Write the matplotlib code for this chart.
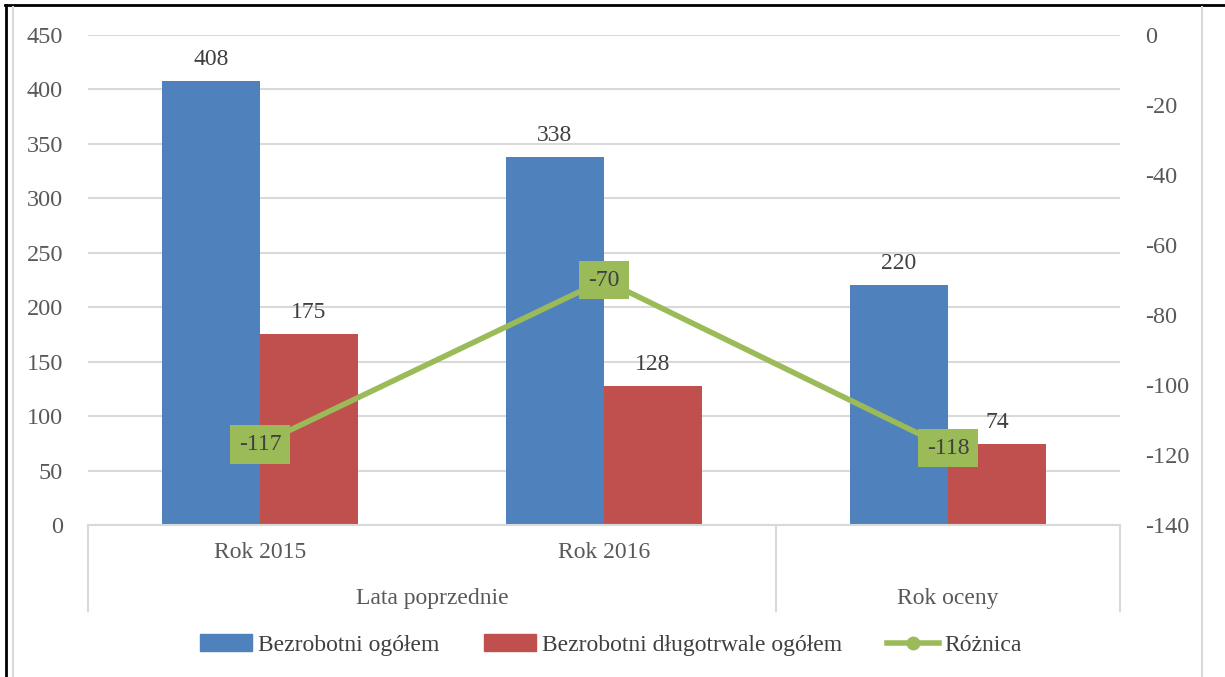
import matplotlib.pyplot as plt
from matplotlib.lines import Line2D
from matplotlib.patches import Patch
import numpy as np

plt.rcParams['font.family'] = ['Liberation Serif', 'DejaVu Serif']
plt.rcParams['axes.unicode_minus'] = False

# dane
kategorie = ['Rok 2015', 'Rok 2016', '']
grupy = ['Lata poprzednie', 'Rok oceny']
ogolem = [408, 338, 220]
dlugotrwale = [175, 128, 74]
roznica = [-117, -70, -118]

niebieski = '#4f81bd'
czerwony = '#c0504d'
zielony = '#9bbb59'
tekst = '#404040'
siatka = '#d9d9d9'

W, H = 1225, 677
fig = plt.figure(figsize=(W / 100, H / 100), dpi=100)
ax = fig.add_axes([88 / W, 1 - 525 / H, (1120 - 88) / W, 490 / H])

x = np.arange(len(kategorie))
w = 0.285
b1 = ax.bar(x - w / 2, ogolem, w, color=niebieski, zorder=2)
b2 = ax.bar(x + w / 2, dlugotrwale, w, color=czerwony, zorder=2)
for bars in (b1, b2):
    for r in bars:
        ax.annotate(str(int(r.get_height())), (r.get_x() + r.get_width() / 2, r.get_height()),
                    xytext=(0, 8), textcoords='offset points', ha='center', va='bottom',
                    fontsize=17, color=tekst)

ax.set_xlim(-0.5, 2.5)
ax.set_ylim(0, 450)
ax.set_yticks(range(0, 451, 50))
ax.yaxis.grid(True, color=siatka, lw=1.5, zorder=0)
ax.set_xticks([])
for s in ax.spines.values():
    s.set_visible(False)
ax.tick_params(axis='y', length=0, labelsize=17.5, labelcolor='#595959', pad=18)

# oś kategorii (dwa poziomy)
tr = ax.get_xaxis_transform()
for i, k in enumerate(kategorie):
    ax.text(x[i], -0.057, k, transform=tr, ha='center', va='center', fontsize=17, color='#595959')
ax.text(0.5, -0.149, grupy[0], transform=tr, ha='center', va='center', fontsize=17, color='#595959')
ax.text(2.0, -0.149, grupy[1], transform=tr, ha='center', va='center', fontsize=17, color='#595959')
for xv in (-0.5, 1.5, 2.5):
    ax.plot([xv, xv], [0, -0.176], transform=tr, color=siatka, lw=1.5, clip_on=False)
ax.plot([-0.5, 2.5], [0, 0], transform=tr, color=siatka, lw=1.5, clip_on=False, zorder=3)

ax2 = ax.twinx()
ax2.plot(x, roznica, color=zielony, lw=4, marker='o', markersize=8, zorder=3)
ax2.set_ylim(-140, 0)
ax2.set_yticks(range(-140, 1, 20))
for s in ax2.spines.values():
    s.set_visible(False)
ax2.tick_params(axis='y', length=0, labelsize=17.5, labelcolor='#595959', pad=18)
for xi, v in zip(x, roznica):
    ax2.text(xi, v, str(v), ha='center', va='center', fontsize=17, color=tekst, zorder=4,
             bbox=dict(boxstyle='square,pad=0.38', facecolor=zielony, edgecolor='none'))

uchwyty = [Patch(color=niebieski), Patch(color=czerwony),
           Line2D([], [], color=zielony, lw=4, marker='o', markersize=9)]
fig.legend(uchwyty, ['Bezrobotni ogółem', 'Bezrobotni długotrwale ogółem', 'Różnica'],
           loc='center', bbox_to_anchor=(611 / W, 1 - 645 / H), ncol=3, frameon=False,
           fontsize=17, labelcolor=tekst, handlelength=2.2, handleheight=0.7,
           handletextpad=0.25, columnspacing=1.9)

# ramki
def linia(x0, y0, x1, y1, kolor, lw):
    fig.add_artist(Line2D([x0 / W, x1 / W], [1 - y0 / H, 1 - y1 / H], color=kolor, lw=lw,
                          transform=fig.transFigure))

linia(5, 5, W, 5, 'black', 2)
linia(6, 5, 6, H, 'black', 2)
linia(13, 7, 13, H, siatka, 1.5)
linia(1202, 7, 1202, H, siatka, 1.5)

fig.savefig('out.png', dpi=100)
